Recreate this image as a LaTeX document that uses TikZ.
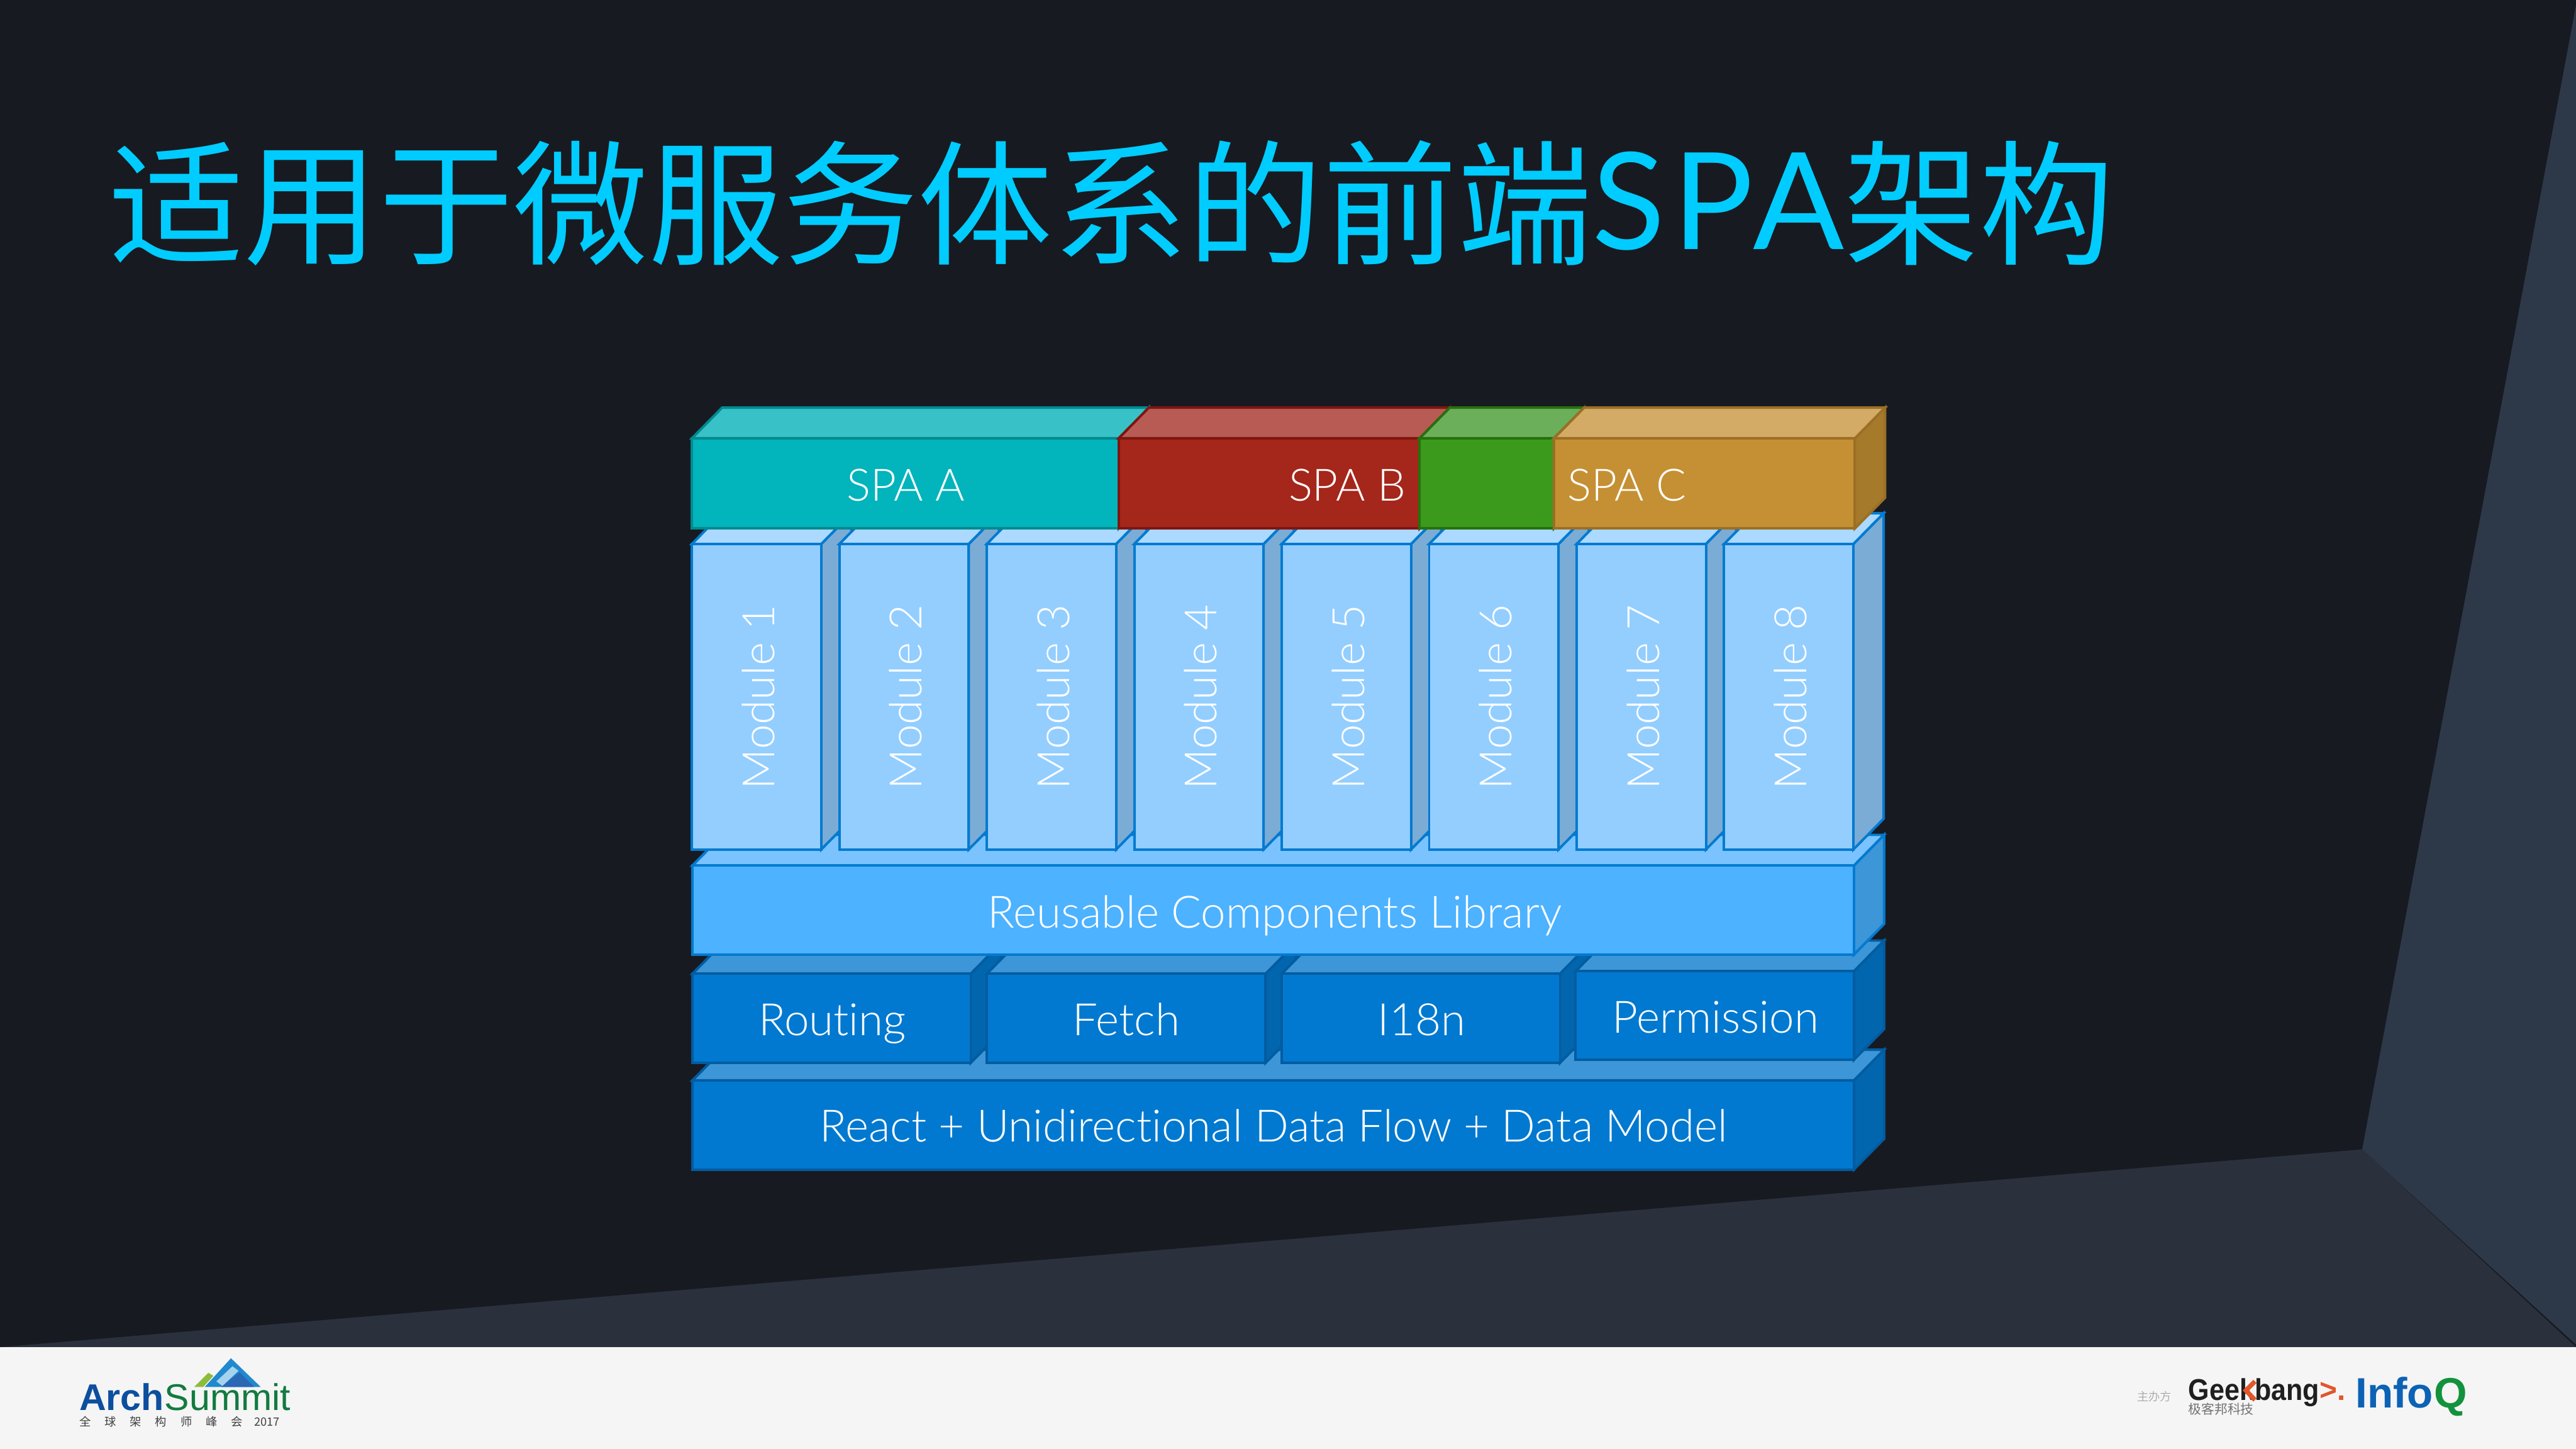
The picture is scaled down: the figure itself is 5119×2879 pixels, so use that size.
\documentclass[tikz,border=0pt]{standalone}
\usepackage{fontspec}
\setmainfont{Lato}[UprightFont=* Light,Ligatures=NoCommon]
\newfontfamily\cjk{Noto Sans CJK SC}
\newfontfamily\cjklight{Noto Sans CJK SC}[UprightFont=* Light]
\newfontfamily\titlelatin{Lato}[LetterSpace=5]
\newfontfamily\logofont{Liberation Sans}
\newfontfamily\geekfont{Liberation Sans}[FakeStretch=0.9]
\definecolor{slidebg}{HTML}{181A21}
\definecolor{bandbg}{HTML}{2B303D}
\definecolor{wedgebg}{HTML}{2D3949}
\definecolor{footbg}{HTML}{F5F5F5}
\definecolor{titleblue}{HTML}{00CCFF}
\definecolor{archblue}{HTML}{0B4F9E}
\definecolor{summitgreen}{HTML}{127A40}
\definecolor{peaklight}{HTML}{2189CE}
\definecolor{peakdark}{HTML}{2A67B5}
\definecolor{peakleaf}{HTML}{8DBB3A}
\definecolor{peakbar}{HTML}{A5D3EE}
\definecolor{geekorange}{HTML}{E2562B}
\definecolor{infoblue}{HTML}{0C62B4}
\definecolor{infogreen}{HTML}{12923C}
\definecolor{spaline}{HTML}{008A8F}
\definecolor{spbline}{HTML}{7E160F}
\definecolor{spgline}{HTML}{27700D}
\definecolor{spcline}{HTML}{9B6F25}
\definecolor{modline}{HTML}{047ACF}
\definecolor{baseline}{HTML}{025CA0}
\definecolor{spatopc}{HTML}{38C2C8}
\definecolor{spafrontc}{HTML}{02B4BB}
\definecolor{spbtopc}{HTML}{B95B55}
\definecolor{spbfrontc}{HTML}{A5261A}
\definecolor{spgtopc}{HTML}{6BAF5B}
\definecolor{spgfrontc}{HTML}{3B9A1C}
\definecolor{spctopc}{HTML}{D3AA66}
\definecolor{spcfrontc}{HTML}{C59033}
\definecolor{spcsidec}{HTML}{A67A2B}
\definecolor{modtopc}{HTML}{ABD9FF}
\definecolor{modfrontc}{HTML}{93CEFF}
\definecolor{modsidec}{HTML}{7BACD5}
\definecolor{libtopc}{HTML}{7AC3FF}
\definecolor{libfrontc}{HTML}{4DB2FF}
\definecolor{libsidec}{HTML}{3D96D8}
\definecolor{basefrontc}{HTML}{0279D0}
\definecolor{basesidec}{HTML}{0266AF}
\newcommand\depthx{60}
\newcommand\depthy{61}
\newcommand\cuboid[5]{%
    \draw[#5side] (#3,#2) -- (#3+\depthx,#2-\depthy) -- (#3+\depthx,#4-\depthy) -- (#3,#4) -- cycle;
    \draw[#5top] (#1,#2) -- (#1+\depthx,#2-\depthy) -- (#3+\depthx,#2-\depthy) -- (#3,#2) -- cycle;
    \draw[#5front] (#1,#2) rectangle (#3,#4);
}
\tikzset{
    face/.style 2 args={fill=#1,draw=#2,line width=1.4pt},
    spaatop/.style={face={spatopc}{spaline}}, spaafront/.style={face={spafrontc}{spaline}}, spaaside/.style={face={spaline}{spaline}},
    spabtop/.style={face={spbtopc}{spbline}}, spabfront/.style={face={spbfrontc}{spbline}}, spabside/.style={face={spbline}{spbline}},
    spagtop/.style={face={spgtopc}{spgline}}, spagfront/.style={face={spgfrontc}{spgline}}, spagside/.style={face={spgline}{spgline}},
    spactop/.style={face={spctopc}{spcline}}, spacfront/.style={face={spcfrontc}{spcline}}, spacside/.style={face={spcsidec}{spcline}},
    modtop/.style={face={modtopc}{modline}}, modfront/.style={face={modfrontc}{modline}}, modside/.style={face={modsidec}{modline}},
    libtop/.style={face={libtopc}{modline}}, libfront/.style={face={libfrontc}{modline}}, libside/.style={face={libsidec}{modline}},
    basetop/.style={face={libsidec}{baseline}}, basefront/.style={face={basefrontc}{baseline}}, baseside/.style={face={basesidec}{baseline}},
    label/.style={text=white,font=\fontsize{25.2}{25.2}\selectfont,anchor=base,inner sep=0pt},
    logotext/.style={anchor=base west,inner sep=0pt},
}
\begin{document}
\begin{tikzpicture}[x=0.01cm,y=-0.01cm]
    \useasboundingbox (0,0) rectangle (5119,2879);
    % --- Background
    \fill[slidebg] (0,0) rectangle (5119,2879);
    \fill[bandbg] (0,2677) -- (4694,2284) -- (5119,2677) -- cycle;
    \fill[wedgebg] (4694,2284) -- (5119,10) -- (5119,2672) -- cycle;
    \fill[footbg] (0,2677) rectangle (5119,2879);
    % --- Title
    \node[logotext,text=titleblue,font=\fontsize{76.2}{76.2}\cjk] (title) at (216,506) {适用于微服务体系的前端\raisebox{3.1pt}{\titlelatin SPA}架构};
    % --- Base layer
    \cuboid{1376}{2147}{3684}{2324}{base}
    % --- Service row
    \cuboid{1376}{1935}{1929}{2112}{base}
    \cuboid{1961}{1935}{2515}{2112}{base}
    \cuboid{2547}{1935}{3100}{2112}{base}
    \cuboid{3131}{1930}{3684}{2106}{base}
    % --- Library
    \cuboid{1376}{1720}{3684}{1897}{lib}
    % --- Modules
    \foreach \i in {1,...,8} {
        \pgfmathtruncatemacro\modleft{1375+293*(\i-1)}
        \cuboid{\modleft}{1081}{\modleft+257}{1688}{mod}
        \node[label,rotate=90] (module\i) at (\modleft+164,1385) {Module \i};
    }
    % --- SPA row
    \cuboid{1375}{871}{2223}{1050}{spaa}
    \cuboid{2223}{871}{2821}{1050}{spab}
    \cuboid{2821}{871}{3088}{1050}{spag}
    \cuboid{3088}{871}{3686}{1050}{spac}
    % --- Labels
    \node[label] (spaA) at (1800,995) {SPA A};
    \node[label] (spaB) at (2677,995) {SPA B};
    \node[label] (spaC) at (3233,995) {SPA C};
    \node[label] (library) at (2533,1844) {Reusable Components Library};
    \node[label] (routing) at (1654,2058) {Routing};
    \node[label] (fetch) at (2238,2058) {Fetch};
    \node[label] (i18n) at (2825,2058) {I18n};
    \node[label] (permission) at (3409,2053) {Permission};
    \node[label] (react) at (2531,2269) {React + Unidirectional Data Flow + Data Model};
    % --- ArchSummit logo
    \fill[peakleaf] (386,2756) -- (414,2728) -- (424,2734) -- (404,2756) -- cycle;
    \fill[peaklight] (407,2756) -- (459,2699) -- (518,2756) -- cycle;
    \fill[peakdark] (440,2756) -- (476,2727) -- (505,2756) -- cycle;
    \fill[peakbar] (430,2745) -- (462,2715) -- (474,2724) -- (442,2754) -- cycle;
    \node[logotext,font=\fontsize{21}{21}\logofont\bfseries,text=archblue] (arch) at (157,2803) {Arch};
    \node[logotext,font=\fontsize{21}{21}\logofont,text=summitgreen] (summit) at (arch.base east) {Summit};
    \node[logotext,font=\fontsize{6.5}{6.5}\cjk,text=black!75] (cnname) at (157,2834) {全\hspace{1.2em}球\hspace{1.2em}架\hspace{1.2em}构\hspace{1.2em}师\hspace{1.2em}峰\hspace{1.2em}会\hspace{1em}2017};
    % --- Organiser logos
    \node[anchor=west,inner sep=0pt,font=\fontsize{6.5}{6.5}\cjklight,text=black!45] (host) at (4246,2775) {主办方};
    \node[logotext,font=\fontsize{17}{17}\geekfont\bfseries,text=black!88] (geek) at (4348,2782) {Geekbang};
    \draw[geekorange,line width=2.6pt] (4481,2745) -- (4463,2763) -- (4481,2782);
    \node[logotext,font=\fontsize{17}{17}\logofont\bfseries,text=geekorange] (geekmark) at (geek.base east) {>.};
    \node[logotext,font=\fontsize{7.4}{7.4}\cjk,text=black!55] (geekcn) at (4348,2810) {极客邦科技};
    \node[logotext,font=\fontsize{24}{24}\logofont\bfseries,text=infoblue] (info) at (4680,2797) {Info};
    \node[logotext,font=\fontsize{24}{24}\logofont\bfseries,text=infogreen] (infoq) at (info.base east) {Q};
\end{tikzpicture}
\end{document}
